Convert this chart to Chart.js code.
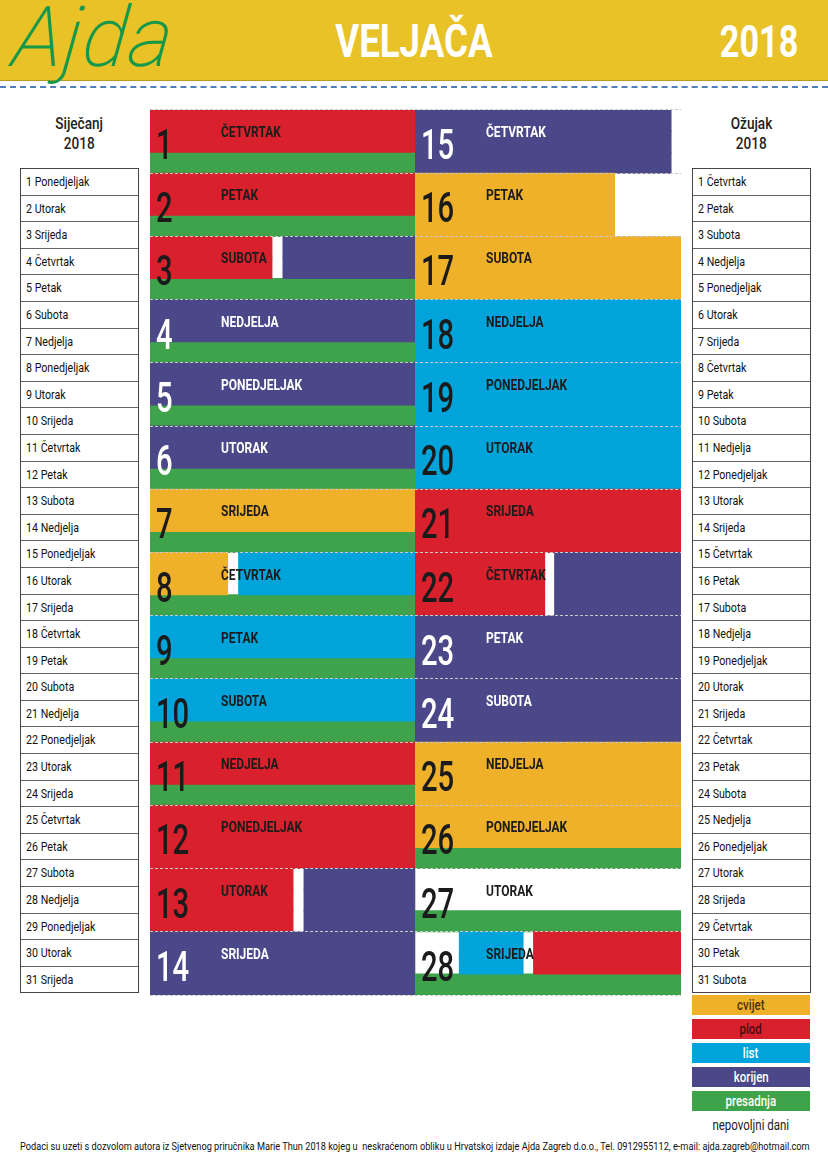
<!DOCTYPE html>
<html>
<head>
<meta charset="utf-8">
<script src="https://cdn.jsdelivr.net/npm/chart.js@4.4.0/dist/chart.umd.min.js"></script>
<style>
body{margin:0;width:828px;height:1171px;position:relative;background:#fff;font-family:Roboto,sans-serif;overflow:hidden}
#head{position:absolute;left:0;top:0;width:828px;height:80px;background:#E8C226;border-bottom:1px solid #b89a1c}
#dash{position:absolute;left:0;top:86px;width:828px;border-top:2px dashed #4f7fb4}
.sq{display:inline-block;white-space:nowrap;transform-origin:0 50%}
#logo{position:absolute;left:14px;top:-12px;font:italic 200 84px Roboto,sans-serif;color:#16984a;letter-spacing:1px;transform:skewX(-6deg)}
#title{position:absolute;left:0;width:828px;top:13px;text-align:center;color:#fff;font:700 47px Roboto}
#title span{transform-origin:50% 50%;transform:scaleX(.78)}
#year{position:absolute;right:30px;top:15px;color:#fff;font:700 45px Roboto}
#year span{transform-origin:100% 50%;transform:scaleX(.76)}
.month{position:absolute;width:118px;text-align:center;font:500 16px Roboto;line-height:20px;color:#222}
.month span{transform-origin:50% 50%;transform:scaleX(.85)}
.list{position:absolute;top:168px;width:117px;border:1px solid #444}
.list div{height:25.6px;font:400 13px Roboto;line-height:26px;border-top:1px solid #666;padding-left:5px;color:#111}
.list div:first-child{border-top:none}
.list span{transform:scaleX(.82)}
#legend{position:absolute;left:692px;top:995px;width:118px}
#legend div{height:20px;margin-bottom:4px;text-align:center;font:500 14px Roboto;line-height:20px}
#legend span{transform-origin:50% 50%;transform:scaleX(.82)}
#foot{position:absolute;left:20px;top:1141px;font:400 10px Roboto;color:#111}
</style>
</head>
<body>
<div id="head"></div>
<div id="logo">Ajda</div>
<div id="title"><span class="sq">VELJAČA</span></div>
<div id="year"><span class="sq">2018</span></div>
<div id="dash"></div>

<div class="month" style="left:20px;top:114px"><span class="sq">Siječanj</span><br><span class="sq">2018</span></div>
<div class="month" style="left:692px;top:114px"><span class="sq">Ožujak</span><br><span class="sq">2018</span></div>
<div class="list" id="janList" style="left:20px"></div>
<div class="list" id="marList" style="left:692px"></div>

<div style="position:absolute;left:150px;top:109px;width:266px;height:887px"><canvas id="leftChart"></canvas></div>
<div style="position:absolute;left:415px;top:109px;width:266px;height:887px"><canvas id="rightChart"></canvas></div>

<div id="legend"></div>
<div id="foot"><span class="sq" id="footText">Podaci su uzeti s dozvolom autora iz Sjetvenog priručnika Marie Thun 2018 kojeg u&nbsp; neskraćenom obliku u Hrvatskoj izdaje Ajda Zagreb d.o.o., Tel. 0912955112, e-mail: ajda.zagreb@hotmail.com</span></div>

<script>
// veljača, lijevi stupac (1-14) i desni stupac (15-28)
const leftDays = ['1','2','3','4','5','6','7','8','9','10','11','12','13','14'];
const leftNames = ['ČETVRTAK','PETAK','SUBOTA','NEDJELJA','PONEDJELJAK','UTORAK','SRIJEDA','ČETVRTAK','PETAK','SUBOTA','NEDJELJA','PONEDJELJAK','UTORAK','SRIJEDA'];
const rightDays = ['15','16','17','18','19','20','21','22','23','24','25','26','27','28'];
const rightNames = ['ČETVRTAK','PETAK','SUBOTA','NEDJELJA','PONEDJELJAK','UTORAK','SRIJEDA','ČETVRTAK','PETAK','SUBOTA','NEDJELJA','PONEDJELJAK','UTORAK','SRIJEDA'];

// sati u danu [od, do], null = nema
const leftCvijet    = [null,null,null,null,null,null,[0,24],[0,7],null,null,null,null,null,null];
const leftPlod      = [[0,24],[0,24],[0,11],null,null,null,null,null,null,null,[0,24],[0,24],[0,12.9],null];
const leftList      = [null,null,null,null,null,null,null,[8,24],[0,24],[0,24],null,null,null,null];
const leftKorijen   = [null,null,[12,24],[0,24],[0,24],[0,24],null,null,null,null,null,null,[13.9,24],[0,24]];
const leftPresadnja = [[0,24],[0,24],[0,24],[0,24],[0,24],[0,24],[0,24],[0,24],[0,24],[0,24],[0,24],null,null,null];

const rightCvijet    = [null,[0,18],[0,24],null,null,null,null,null,null,null,[0,24],[0,24],null,null];
const rightPlod      = [null,null,null,null,null,null,[0,24],[0,11.7],null,null,null,null,null,[10.7,24]];
const rightList      = [null,null,null,[0,24],[0,24],[0,24],null,null,null,null,null,null,null,[4,9.75]];
const rightKorijen   = [[0,23.1],null,null,null,null,null,null,[12.6,24],[0,24],[0,24],null,null,null,null];
const rightPresadnja = [null,null,null,null,null,null,null,null,null,null,null,[0,24],[0,24],[0,24]];

const legendLabels = ['cvijet','plod','list','korijen','presadnja'];
const legendNote = 'nepovoljni dani';

const january = ['1 Ponedjeljak','2 Utorak','3 Srijeda','4 Četvrtak','5 Petak','6 Subota','7 Nedjelja','8 Ponedjeljak','9 Utorak','10 Srijeda','11 Četvrtak','12 Petak','13 Subota','14 Nedjelja','15 Ponedjeljak','16 Utorak','17 Srijeda','18 Četvrtak','19 Petak','20 Subota','21 Nedjelja','22 Ponedjeljak','23 Utorak','24 Srijeda','25 Četvrtak','26 Petak','27 Subota','28 Nedjelja','29 Ponedjeljak','30 Utorak','31 Srijeda'];
const march = ['1 Četvrtak','2 Petak','3 Subota','4 Nedjelja','5 Ponedjeljak','6 Utorak','7 Srijeda','8 Četvrtak','9 Petak','10 Subota','11 Nedjelja','12 Ponedjeljak','13 Utorak','14 Srijeda','15 Četvrtak','16 Petak','17 Subota','18 Nedjelja','19 Ponedjeljak','20 Utorak','21 Srijeda','22 Četvrtak','23 Petak','24 Subota','25 Nedjelja','26 Ponedjeljak','27 Utorak','28 Srijeda','29 Četvrtak','30 Petak','31 Subota'];

const boje = {cvijet:'#F0B12A', plod:'#D8212C', list:'#00A4DA', korijen:'#4B4889', presadnja:'#3EA34A'};
const legendText = {cvijet:'#4a3410', plod:'#4a0d10', list:'#fff', korijen:'#fff', presadnja:'#fff'};
const vrste = ['cvijet','plod','list','korijen'];

function fillList(id, items){
    const el = document.getElementById(id);
    items.forEach(t => {
        const d = document.createElement('div');
        d.innerHTML = '<span class="sq">' + t + '</span>';
        el.appendChild(d);
    });
}
fillList('janList', january);
fillList('marList', march);

const leg = document.getElementById('legend');
legendLabels.forEach(l => {
    const d = document.createElement('div');
    d.style.background = boje[l];
    d.style.color = legendText[l];
    d.innerHTML = '<span class="sq">' + l + '</span>';
    leg.appendChild(d);
});
const note = document.createElement('div');
note.style.color = '#222';
note.style.fontWeight = '400';
note.innerHTML = '<span class="sq">' + legendNote + '</span>';
leg.appendChild(note);

// podnožje rastegnuto na širinu
const ft = document.getElementById('footText');
ft.style.transform = 'scaleX(' + (790 / ft.offsetWidth) + ')';

function bojaU(ranges, i, h){
    let c = null;
    vrste.forEach(k => {
        const r = ranges[k][i];
        if(r && h >= r[0] && h < r[1]) c = k;
    });
    return c;
}

function napraviStupac(id, days, names, ranges){
    const datasets = [];
    // gornje dvije trećine: boje; donja trećina: presadnja ili boje
    ['gore1','gore2'].forEach(stack => {
        vrste.forEach(k => datasets.push({label:k, data:ranges[k], backgroundColor:boje[k], stack:stack}));
    });
    vrste.forEach(k => datasets.push({
        label:k,
        data:ranges[k].map((r, i) => ranges.presadnja[i] ? null : r),
        backgroundColor:boje[k], stack:'dolje'}));
    datasets.push({label:'presadnja', data:ranges.presadnja, backgroundColor:boje.presadnja, stack:'dolje'});

    const tekst = {
        id:'tekst',
        afterDraw(chart){
            const {ctx, chartArea, scales:{y}} = chart;
            const h = y.height / days.length;
            days.forEach((d, i) => {
                const top = y.getPixelForValue(i) - h / 2;
                ctx.save();
                ctx.fillStyle = bojaU(ranges, i, 0.5) === 'korijen' ? '#fff' : '#1b1b1b';
                ctx.translate(chartArea.left + 6, top + 49);
                ctx.scale(0.68, 1);
                ctx.font = '500 43px Roboto';
                ctx.fillText(d, 0, 0);
                ctx.restore();

                ctx.save();
                ctx.fillStyle = bojaU(ranges, i, 7) === 'korijen' ? '#fff' : '#1b1b1b';
                ctx.translate(chartArea.left + 71, top + 27);
                ctx.scale(0.8, 1);
                ctx.font = '700 15px Roboto';
                ctx.fillText(names[i], 0, 0);
                ctx.restore();
            });
        }
    };

    new Chart(document.getElementById(id), {
        type:'bar',
        data:{labels:days, datasets:datasets},
        options:{
            indexAxis:'y',
            responsive:true,
            maintainAspectRatio:false,
            animation:false,
            layout:{padding:{top:1,bottom:1,left:0,right:0}},
            datasets:{bar:{barPercentage:1, categoryPercentage:1, borderWidth:0, inflateAmount:0.5}},
            plugins:{legend:{display:false}, tooltip:{enabled:false}},
            scales:{
                x:{min:0, max:24, stacked:false, display:true,
                   ticks:{display:false, stepSize:24},
                   grid:{drawTicks:false, color:c => c.tick && c.tick.value === 0 ? '#cfcfcf' : 'rgba(0,0,0,0)'},
                   border:{display:false}},
                y:{stacked:true,
                   ticks:{display:false},
                   grid:{drawTicks:false, color:'#c8c8c8', lineWidth:1, z:1},
                   border:{display:false, dash:[3,2]}}
            }
        },
        plugins:[tekst]
    });
}

napraviStupac('leftChart', leftDays, leftNames,
    {cvijet:leftCvijet, plod:leftPlod, list:leftList, korijen:leftKorijen, presadnja:leftPresadnja});
napraviStupac('rightChart', rightDays, rightNames,
    {cvijet:rightCvijet, plod:rightPlod, list:rightList, korijen:rightKorijen, presadnja:rightPresadnja});
</script>
</body>
</html>
